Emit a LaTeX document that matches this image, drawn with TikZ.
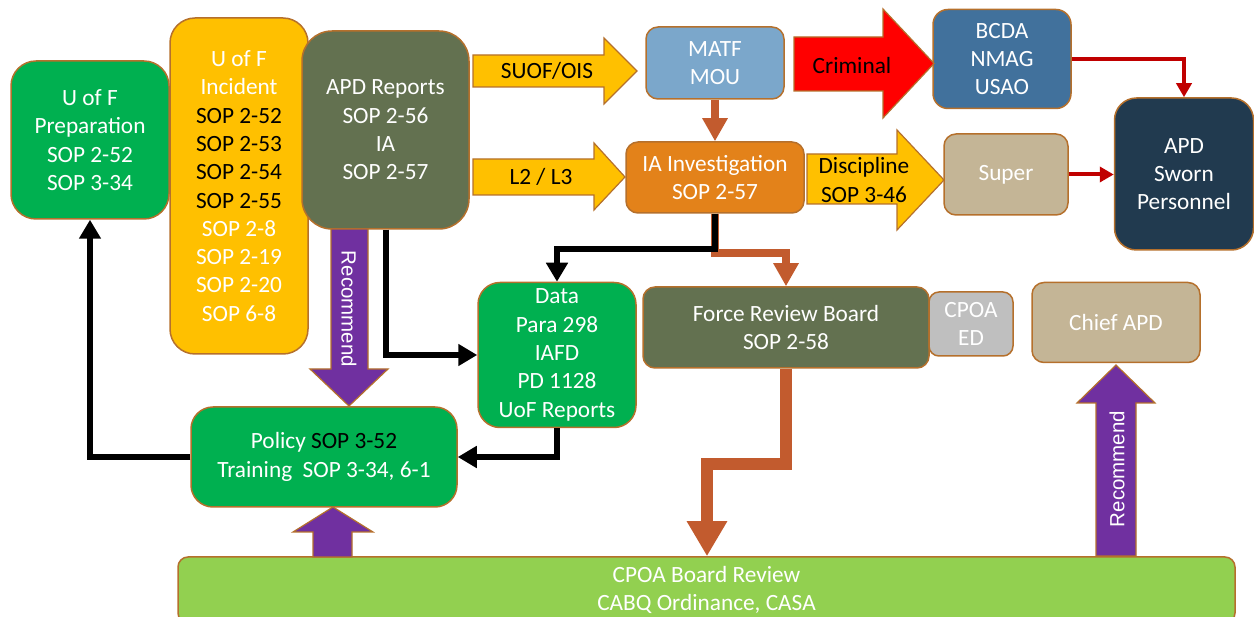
\documentclass[tikz,border=0pt]{standalone}
\usepackage{fontspec}
\setmainfont{Carlito}
\newfontfamily\recfont{Liberation Sans}
\usetikzlibrary{arrows.meta, positioning}
\definecolor{mgreen}{HTML}{00B050}
\definecolor{myellow}{HTML}{FFC000}
\definecolor{molive}{HTML}{637150}
\definecolor{mlblue}{HTML}{7BA7CB}
\definecolor{mblue}{HTML}{41719C}
\definecolor{mnavy}{HTML}{213A4F}
\definecolor{morange}{HTML}{E3821A}
\definecolor{mbrown}{HTML}{C25B2E}
\definecolor{mtan}{HTML}{C4B596}
\definecolor{mgray}{HTML}{BFBFBF}
\definecolor{mlime}{HTML}{92D050}
\definecolor{mpurp}{HTML}{7030A0}
\definecolor{mred}{HTML}{FF0000}
\definecolor{mdred}{HTML}{C00000}
\definecolor{medge}{HTML}{B5702C}
\tikzstyle{box} = [rectangle, draw = medge, line width = 1.5pt, text = white, align = center, inner sep = 0pt, font = \fontsize{23.3}{28.3}\selectfont]
\tikzstyle{blockarrow} = [draw = medge, line width = 1.2pt, line join = miter]
\tikzstyle{lbl} = [align = center, inner sep = 0pt, font = \fontsize{23.3}{28.3}\selectfont]
\tikzstyle{reclbl} = [text = white, inner sep = 0pt, font = \recfont\fontsize{20.5}{24}\selectfont]
\tikzstyle{wire} = [line width = 6pt, -{Triangle[length=19pt,width=21pt]}]
\tikzstyle{redwire} = [mdred, line width = 4pt, -{Triangle[length=14pt,width=15pt]}]
\tikzstyle{flow} = [mbrown, line width = 8pt, -{Triangle[length=23pt,width=24pt]}]

\begin{document}
\begin{tikzpicture}[x = 1pt, y = -1pt]
\useasboundingbox (0,0) rectangle (1254,617);
\node (prep) [box, fill = mgreen, rounded corners = 25pt, minimum width = 158pt, minimum height = 158pt] at (90,140) {U of F\\Preparation\\SOP 2-52\\SOP 3-34};
\node (incident) [box, fill = myellow, rounded corners = 25pt, minimum width = 138pt, minimum height = 336pt] at (239,186) {U of F\\Incident\\\textcolor{black}{SOP 2-52}\\\textcolor{black}{SOP 2-53}\\\textcolor{black}{SOP 2-54}\\\textcolor{black}{SOP 2-55}\\SOP 2-8\\SOP 2-19\\SOP 2-20\\SOP 6-8};
\node (apd) [box, fill = molive, rounded corners = 30pt, minimum width = 167pt, minimum height = 198pt] at (385.5,130) {APD Reports\\SOP 2-56\\IA\\SOP 2-57};
\node (matf) [box, fill = mlblue, rounded corners = 12pt, minimum width = 138pt, minimum height = 72pt] at (715,63) {MATF\\MOU};
\node (bcda) [box, fill = mblue, rounded corners = 15pt, minimum width = 138pt, minimum height = 99pt] at (1002,59) {BCDA\\NMAG\\USAO};
\node (sworn) [box, fill = mnavy, rounded corners = 22pt, minimum width = 139pt, minimum height = 152pt] at (1184,174) {APD\\Sworn\\Personnel};
\node (ia) [box, fill = morange, rounded corners = 12pt, minimum width = 178pt, minimum height = 71pt] at (715,177.5) {IA Investigation\\SOP 2-57};
\node (super) [box, fill = mtan, rounded corners = 12pt, minimum width = 124pt, minimum height = 81pt] at (1006,174.5) {Super};
\node (data) [box, fill = mgreen, rounded corners = 22pt, minimum width = 158pt, minimum height = 145pt] at (557,355) {Data\\Para 298\\IAFD\\PD 1128\\UoF Reports};
\node (frb) [box, fill = molive, rounded corners = 12pt, minimum width = 286pt, minimum height = 81pt] at (786,327.5) {Force Review Board\\SOP 2-58};
\node (ed) [box, fill = mgray, rounded corners = 10pt, minimum width = 84pt, minimum height = 64pt] at (971,324) {CPOA\\ED};
\node (chief) [box, fill = mtan, rounded corners = 12pt, minimum width = 168pt, minimum height = 80pt] at (1116,322.5) {Chief APD};
\node (policy) [box, fill = mgreen, rounded corners = 22pt, minimum width = 266pt, minimum height = 100pt] at (324,457) {Policy \textcolor{black}{SOP 3-52}\\Training\ \ SOP 3-34, 6-1};
\node (board) [box, fill = mlime, rounded corners = 10pt, minimum width = 1057pt, minimum height = 66pt] at (706.5,590) {CPOA Board Review\\CABQ Ordinance, CASA};
\filldraw [blockarrow, fill = myellow] (473,55) -- (604,55) -- (604,38) -- (637,71) -- (604,104) -- (604,87) -- (473,87) -- cycle;
\node (suof) [lbl] at (547,71) {SUOF/OIS};
\filldraw [blockarrow, fill = myellow] (473,159) -- (594,159) -- (594,143) -- (625,177) -- (594,210) -- (594,195) -- (473,195) -- cycle;
\node (lvl) [lbl] at (541,177) {L2 / L3};
\filldraw [blockarrow, fill = mred] (794,37) -- (883,37) -- (883,9) -- (934,63.5) -- (883,118) -- (883,91) -- (794,91) -- cycle;
\node (crim) [lbl] at (852,66) {Criminal};
\filldraw [blockarrow, fill = myellow] (807,154) -- (897,154) -- (897,130) -- (944,180) -- (897,230) -- (897,204) -- (807,204) -- cycle;
\node (disc) [lbl] at (864,180) {Discipline\\SOP 3-46};
\filldraw [blockarrow, fill = mpurp] (331,229) -- (331,369) -- (310,369) -- (349,406) -- (388,369) -- (368,369) -- (368,229) -- cycle;
\node (rec1) [reclbl, rotate = -90] at (349,309) {Recommend};
\filldraw [blockarrow, fill = mpurp] (313,557) -- (313,532) -- (293,532) -- (333,507) -- (373,532) -- (352,532) -- (352,557) -- cycle;
\filldraw [blockarrow, fill = mpurp] (1096,556) -- (1096,403) -- (1077,403) -- (1116,365) -- (1155,403) -- (1136,403) -- (1136,556) -- cycle;
\node (rec2) [reclbl, rotate = 90] at (1117,469) {Recommend};
\coordinate (bend) at (707,464);
\draw [flow] (matf.south) -- (ia.north);
\draw [flow] (ia.south) -- ++(0,39) -| (frb.north);
\draw [flow, line width = 12pt, -{Triangle[length=35pt,width=38pt]}] (frb.south) |- (bend) -- (bend |- board.north);
\draw [wire] (ia.south) -- ++(0,35) -| (data.north);
\draw [wire] (apd.south) |- (data.west);
\draw [wire] (data.south) |- (policy.east);
\draw [wire] (policy.west) -| (prep.south);
\draw [redwire] (bcda.east) -| (sworn.north);
\draw [redwire] (super.east) -- (super.east -| sworn.west);
\end{tikzpicture}
\end{document}
